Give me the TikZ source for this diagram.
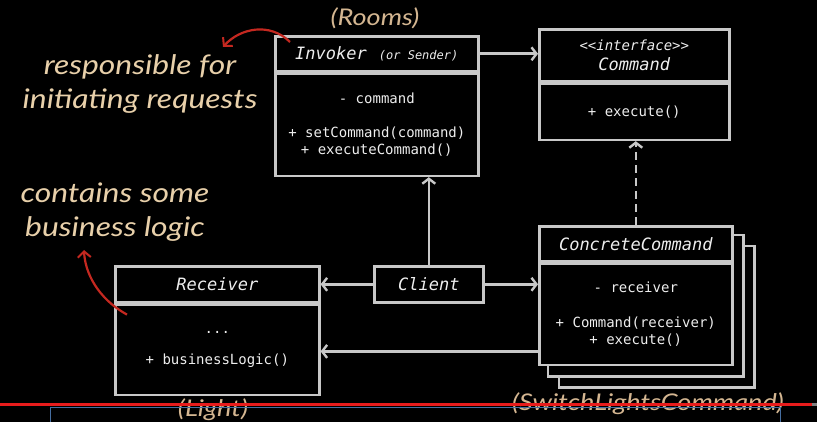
\documentclass[tikz,border=0pt]{standalone}
\usepackage{fontspec}
\setmainfont{Lato}
\setmonofont{DejaVu Sans Mono}
\newfontfamily\notefont[FakeStretch=1.18]{Lato}
\usetikzlibrary{arrows.meta, positioning, backgrounds}
\definecolor{cline}{RGB}{200,200,200}
\definecolor{ctext}{RGB}{238,238,238}
\definecolor{ctan}{RGB}{232,208,170}
\definecolor{cnote}{RGB}{212,182,145}
\definecolor{cred}{RGB}{196,40,32}
\definecolor{cbar}{RGB}{232,28,28}
\definecolor{cblue}{RGB}{70,110,160}

\begin{document}
\begin{tikzpicture}[
  x=1pt, y=-1pt,
  hdr/.style   = {rectangle, draw=cline, line width=2.6pt, fill=black,
                  text=ctext, anchor=north west, inner sep=0pt, align=center,
                  font=\ttfamily\itshape\fontsize{17}{20}\selectfont},
  body/.style  = {rectangle, draw=cline, line width=2.6pt, fill=black,
                  text=ctext, anchor=north west, inner sep=0pt, align=center,
                  font=\ttfamily\fontsize{14}{17}\selectfont},
  arr/.style   = {-{Straight Barb[length=5pt, width=13pt, line width=2.4pt]},
                  cline, line width=2.6pt},
  note/.style  = {text=ctan, align=center, font=\notefont\itshape\fontsize{27}{34}\selectfont},
  role/.style  = {text=cnote, font=\notefont\itshape\fontsize{23}{26}\selectfont},
  redarr/.style= {-{Straight Barb[length=6pt, width=13pt, line width=2pt]},
                  cred, line width=2.2pt},
]
\useasboundingbox (0,0) rectangle (817,422);

% classes
\node[hdr, minimum width=203pt, minimum height=35pt] (invH) at (274,35)
  {Invoker\hspace{12pt}{\fontsize{12}{14}\selectfont(or Sender)}};
\node[body, minimum width=203pt, minimum height=102pt] (invB) at (invH.south west)
  {- command\\[17pt]+ setCommand(command)\\+ executeCommand()};
\node[hdr, minimum width=190pt, minimum height=52pt] (cmdH) at (538,28)
  {{\fontsize{14}{18}\selectfont<{}<interface>{}>}\\Command};
\node[body, minimum width=190pt, minimum height=56pt] (cmdB) at (cmdH.south west)
  {+ execute()};
\node[hdr, minimum width=193pt, minimum height=35pt] (ccH) at (538,225)
  {ConcreteCommand};
\node[body, minimum width=193pt, minimum height=101pt] (ccB) at (ccH.south west)
  {- receiver\\[18pt]+ Command(receiver)\\+ execute()};
\node[hdr, minimum width=204pt, minimum height=36pt] (rcvH) at (114,265)
  {Receiver};
\node[body, minimum width=204pt, minimum height=90pt] (rcvB) at (rcvH.south west)
  {...\\[14pt]+ businessLogic()};
\node[hdr, minimum width=109pt, minimum height=36pt] (client) at (373,265)
  {Client};

% connectors
\coordinate (ccRcv) at ([yshift=-37pt]ccB.west);
\draw[arr] (invH.east) -- (invH.east -| cmdH.west);
\draw[arr, dash pattern=on 8pt off 5pt] (ccH.north) -- (ccH.north |- cmdB.south);
\draw[arr] (client.north) -- (client.north |- invB.south);
\draw[arr] (client.west) -- (rcvH.east);
\draw[arr] (client.east) -- (client.east -| ccB.west);
\draw[arr] (ccRcv) -- (ccRcv -| rcvB.east);

% notes
\node[note] (respNote) at (140,84) {responsible for\\initiating requests};
\node[note] (bizNote)  at (115,212) {contains some\\business logic};
\node[role] (rooms) at (375,18) {(Rooms)};
\node[role] (light) at (213,410) {(Light)};
\node[role] (switch) at (648,404) {(SwitchLightsCommand)};
\draw[redarr] ([shift={(16,7)}]invH.north west) .. controls (270,22) and (240,28) .. (223,47);
\draw[redarr] ([shift={(13,11)}]rcvB.north west) .. controls (97,298) and (85,272) .. (84,250);

% player bar
\draw[cblue, line width=1pt] (50,422) -- (50,407) -- (780,407) -- (780,422);
\draw[cbar, line width=3pt] (0,404.5) -- (812,404.5);
\draw[gray, line width=3pt] (812,404.5) -- (817,404.5);

\begin{pgfonlayer}{background}
  \fill[black] (0,0) rectangle (817,422);
  \foreach \d in {21,10}
    \draw[cline, line width=2.6pt, fill=black]
      ([shift={(\d,\d)}]ccH.north west) rectangle ([shift={(\d,\d)}]ccB.south east);
\end{pgfonlayer}
\end{tikzpicture}
\end{document}
